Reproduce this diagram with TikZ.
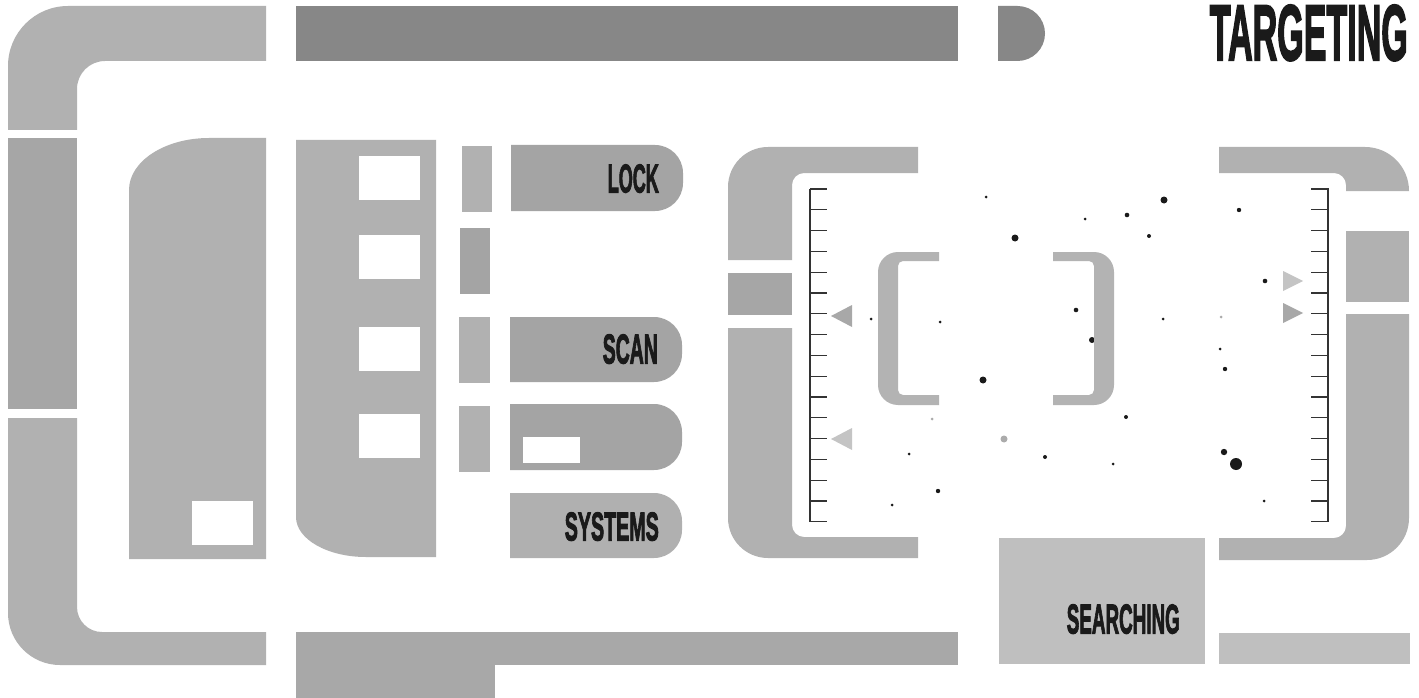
\documentclass[tikz,border=0pt]{standalone}
\usepackage{fontspec}
\setmainfont{Liberation Sans}[BoldFeatures={FakeBold=3}]
\usepackage{graphicx}
\definecolor{framegray}{HTML}{B1B1B1}
\definecolor{stripgray}{HTML}{A6A6A6}
\definecolor{darkbar}{HTML}{878787}
\definecolor{btndark}{HTML}{A4A4A4}
\definecolor{btnlight}{HTML}{B0B0B0}
\definecolor{palegray}{HTML}{BFBFBF}
\definecolor{botgray}{HTML}{A8A8A8}
\definecolor{bracketgray}{HTML}{B3B3B3}
\definecolor{textblack}{HTML}{1A1A1A}
\definecolor{tickcol}{HTML}{333333}
\definecolor{trilight}{HTML}{C4C4C4}
\definecolor{tridark}{HTML}{A8A8A8}
\definecolor{dotgray}{HTML}{ABABAB}
\newcommand{\lcarslbl}[3]{\resizebox{#1pt}{#2pt}{\bfseries #3}}
\begin{document}
\begin{tikzpicture}[x=1pt,y=-1pt,
  lbl/.style={anchor=south east,inner sep=0pt,text=textblack},
  tick/.style={draw=tickcol,line width=1.3pt}]
\useasboundingbox[fill=white] (0,0) rectangle (1419,698);
% outer frame
\fill[framegray] (8,130) -- (8,66) arc[start angle=180,end angle=270,radius=60] -- (266,6) -- (266,61) -- (105,61) arc[start angle=270,end angle=180,radius=28] -- (77,130) -- cycle;
\fill[stripgray] (8,138) rectangle (77,409);
\fill[framegray] (8,418) -- (8,613) arc[start angle=180,end angle=90,radius=52] -- (266,665) -- (266,632) -- (102,632) arc[start angle=90,end angle=180,radius=25] -- (77,418) -- cycle;
% top bars
\fill[darkbar] (296,6) rectangle (958,61);
\fill[darkbar] (998,6) -- (1017.5,6) arc[start angle=270,end angle=450,radius=27.5] -- (998,61) -- cycle;
% bottom bars
\fill[botgray] (296,632) rectangle (958,665);
\fill[botgray] (296,665) rectangle (495,698);
% panel 1
\fill[framegray] (129,559) -- (129,190) arc[start angle=180,end angle=270,x radius=80,y radius=52] -- (266,138) -- (266,559) -- cycle;
\fill[white] (192,501) rectangle (253,545);
% panel 2
\fill[framegray] (296,140) -- (436,140) -- (436,557) -- (366,557) arc[start angle=90,end angle=180,x radius=70,y radius=40] -- cycle;
\foreach \yy in {156,235,327,414} \fill[white] (359,\yy) rectangle (420,\yy+44);
% small bars
\fill[framegray] (462,146) rectangle (492,212);
\fill[btndark] (460,228) rectangle (490,294);
\fill[framegray] (459,317) rectangle (490,383);
\fill[framegray] (459,406) rectangle (490,472);
% buttons
\fill[btndark] (511,145) -- (655,145) arc[start angle=270,end angle=360,radius=28] -- (683,183) arc[start angle=0,end angle=90,radius=28] -- (511,211) -- cycle;
\fill[btndark] (510,317) -- (654,317) arc[start angle=270,end angle=360,radius=28] -- (682,354) arc[start angle=0,end angle=90,radius=28] -- (510,382) -- cycle;
\fill[btndark] (510,404) -- (654,404) arc[start angle=270,end angle=360,radius=28] -- (682,442) arc[start angle=0,end angle=90,radius=28] -- (510,470) -- cycle;
\fill[white] (523,437) rectangle (580,463);
\fill[btnlight] (510,493) -- (654,493) arc[start angle=270,end angle=360,radius=28] -- (682,530) arc[start angle=0,end angle=90,radius=28] -- (510,558) -- cycle;
\node[lbl] (lock) at (659,193) {\lcarslbl{51}{28}{LOCK}};
\node[lbl] (scan) at (658,364) {\lcarslbl{55}{29}{SCAN}};
\node[lbl] (systems) at (659,541) {\lcarslbl{94}{28}{SYSTEMS}};
\node[lbl] (targeting) at (1408,61) {\lcarslbl{198}{55}{TARGETING}};
% scanner left bracket
\fill[framegray] (728,260) -- (728,187) arc[start angle=180,end angle=270,radius=40] -- (918,147) -- (918,173) -- (804,173) arc[start angle=270,end angle=180,radius=12] -- (792,260) -- cycle;
\fill[stripgray] (728,273) rectangle (792,315);
\fill[framegray] (728,328) -- (728,518) arc[start angle=180,end angle=90,radius=40] -- (918,558) -- (918,537) -- (804,537) arc[start angle=90,end angle=180,radius=12] -- (792,328) -- cycle;
% scanner right bracket
\fill[framegray] (1219,147) -- (1365,147) arc[start angle=270,end angle=360,radius=44] -- (1409,191) -- (1346,191) -- (1346,185) arc[start angle=0,end angle=-90,radius=12] -- (1219,173) -- cycle;
\fill[framegray] (1346,231) rectangle (1409,302);
\fill[framegray] (1346,314) -- (1409,314) -- (1409,518) arc[start angle=0,end angle=90,radius=42] -- (1219,560) -- (1219,538) -- (1334,538) arc[start angle=90,end angle=0,radius=12] -- cycle;
% searching
\fill[palegray] (999,538) rectangle (1205,664);
\fill[palegray] (1219,633) rectangle (1410,664);
\node[lbl] (searching) at (1180,634) {\lcarslbl{113}{29}{SEARCHING}};
% rulers
\draw[tick] (810,189) -- (810,522);
\draw[tick] (1328,188) -- (1328,522);
\foreach \i in {0,...,16} {
  \draw[tick] (810,189+\i*20.8) -- (827,189+\i*20.8);
  \draw[tick] (1311,189+\i*20.8) -- (1328,189+\i*20.8);
}
% triangles
\fill[tridark] (831,316) -- (852,305) -- (852,327) -- cycle;
\fill[trilight] (831,439) -- (852,428) -- (852,450) -- cycle;
\fill[trilight] (1303,281) -- (1283,271) -- (1283,291) -- cycle;
\fill[tridark] (1303,313) -- (1283,303) -- (1283,323) -- cycle;
% dots
\foreach \dx/\dy/\dr in {986/197/1.5, 1015/238/3.5, 871/319/1.5, 940/322/1.5, 1085/219/1.5,
  1127/215/2.3, 1164/200/3.5, 1149/236/2, 1239/210/2.2, 1076/310/2.3, 1092/340/3,
  1163/319/1.5, 1220/349/1.5, 1225/369/2.2, 1265/281/2.3, 983/380/3.5, 909/454/1.5,
  1045/457/2, 938/491/2.2, 892/505/1.5, 1126/417/2, 1113/464/1.5, 1224/452/3.2,
  1236/464/6, 1264/501/1.5}
  \fill[textblack] (\dx,\dy) circle[radius=\dr];
\fill[dotgray] (1221,317) circle[radius=1.5];
\fill[dotgray] (932,419) circle[radius=1.5];
\fill[dotgray] (1004,439) circle[radius=3.5];
% inner brackets
\fill[bracketgray] (939,252) -- (898,252) arc[start angle=270,end angle=180,radius=20] -- (878,385) arc[start angle=180,end angle=90,radius=20] -- (939,405) -- (939,395) -- (903,395) arc[start angle=90,end angle=180,radius=5] -- (898,266) arc[start angle=180,end angle=270,radius=5] -- (939,261) -- cycle;
\fill[bracketgray] (1053,252) -- (1094,252) arc[start angle=270,end angle=360,radius=20] -- (1114,385) arc[start angle=0,end angle=90,radius=20] -- (1053,405) -- (1053,395) -- (1089,395) arc[start angle=90,end angle=0,radius=5] -- (1094,266) arc[start angle=0,end angle=-90,radius=5] -- (1053,261) -- cycle;
\end{tikzpicture}
\end{document}
